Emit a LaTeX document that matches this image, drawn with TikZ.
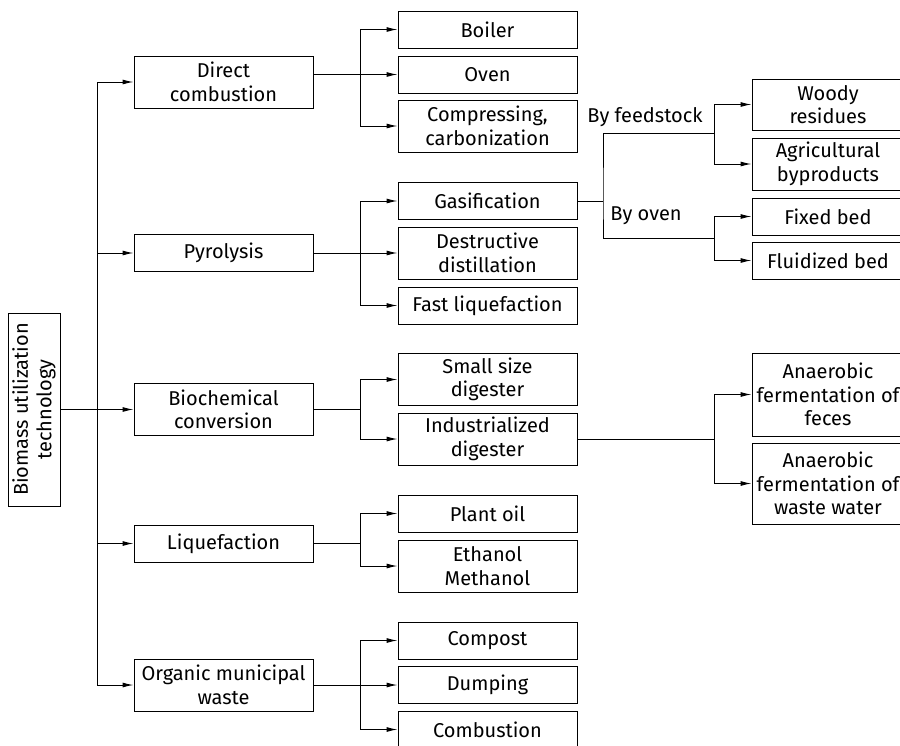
\documentclass[tikz,border=0pt]{standalone}
\usepackage{fontspec}
\setmainfont{Fira Sans}
\usepackage{tikz}
\usetikzlibrary{arrows.meta,positioning,calc}

\begin{document}
\begin{tikzpicture}[
  x=1pt,y=-1pt,
  every node/.style={font=\fontsize{20}{23.5}\selectfont},
  box/.style={draw,line width=1pt,align=center,inner sep=1pt,
              minimum width=179pt,minimum height=37pt},
  tallbox/.style={box,minimum height=52pt},
  endbox/.style={box,minimum width=152pt},
  arr/.style={-{Latex[length=11pt,width=5pt]},line width=1pt},
  conn/.style={line width=1pt}
]
  \useasboundingbox (0,0) rectangle (900,745);
  \node[box,rotate=90,minimum width=193pt,minimum height=52pt] (root) at (34,409.5) {Biomass utilization\\technology};

  \node[tallbox] (dc) at (223.5,82) {Direct\\combustion};
  \node[box] (pyro) at (223.5,253) {Pyrolysis};
  \node[tallbox] (bio) at (223.5,409.5) {Biochemical\\conversion};
  \node[box] (liq) at (223.5,543.5) {Liquefaction};
  \node[tallbox] (omw) at (223.5,685) {Organic municipal\\waste};

  \node[box] (boiler) at (487.5,29.5) {Boiler};
  \node[box] (oven) at (487.5,74.5) {Oven};
  \node[tallbox] (compress) at (487.5,126) {Compressing,\\carbonization};
  \node[box] (gas) at (487.5,201) {Gasification};
  \node[tallbox] (destr) at (487.5,253) {Destructive\\distillation};
  \node[box] (fastliq) at (487.5,305.5) {Fast liquefaction};
  \node[tallbox] (smalldig) at (487.5,379.5) {Small size\\digester};
  \node[tallbox] (inddig) at (487.5,439) {Industrialized\\digester};
  \node[box] (plantoil) at (487.5,513.5) {Plant oil};
  \node[tallbox] (ethanol) at (487.5,566) {Ethanol\\Methanol};
  \node[box] (compost) at (487.5,640.5) {Compost};
  \node[box] (dumping) at (487.5,685) {Dumping};
  \node[box] (combust) at (487.5,729.5) {Combustion};

  \node[endbox,minimum height=51pt] (woody) at (828,104.5) {Woody\\residues};
  \node[endbox,minimum height=52pt] (agri) at (828,164) {Agricultural\\byproducts};
  \node[endbox] (fixed) at (828,216.5) {Fixed bed};
  \node[endbox] (fluid) at (828,260.5) {Fluidized bed};
  \node[endbox,minimum height=83pt] (feces) at (828,394.5) {Anaerobic\\fermentation of\\feces};
  \node[endbox,minimum height=81pt] (wastew) at (828,483.5) {Anaerobic\\fermentation of\\waste water};

  \node (feedlbl) at (645,117) {By feedstock};
  \node (ovenlbl) at (646,216) {By oven};

  \coordinate (trunk) at (97,409);
  \draw[arr] (root) -- (bio);
  \draw[arr] (trunk) |- (dc);
  \draw[arr] (trunk) |- (pyro);
  \draw[arr] (trunk) |- (liq);
  \draw[arr] (trunk) |- (omw);

  \coordinate (dcfork) at (360,74.5);
  \draw[arr] (dc.east |- oven) -- (oven);
  \draw[arr] (dcfork) |- (boiler);
  \draw[arr] (dcfork) |- (compress);

  \coordinate (pyrofork) at (360,253);
  \draw[arr] (pyro) -- (destr);
  \draw[arr] (pyrofork) |- (gas);
  \draw[arr] (pyrofork) |- (fastliq);

  \coordinate (biofork) at (360,409.5);
  \draw[conn] (bio) -- (biofork);
  \draw[arr] (biofork) |- (smalldig);
  \draw[arr] (biofork) |- (inddig);

  \coordinate (liqfork) at (360,543.5);
  \draw[conn] (liq) -- (liqfork);
  \draw[arr] (liqfork) |- (plantoil);
  \draw[arr] (liqfork) |- (ethanol);

  \coordinate (omwfork) at (360,685);
  \draw[arr] (omw) -- (dumping);
  \draw[arr] (omwfork) |- (compost);
  \draw[arr] (omwfork) |- (combust);

  \coordinate (gasfork) at (603,201);
  \coordinate (feedfork) at (714,133);
  \coordinate (ovenfork) at (714,238);
  \draw[conn] (gas) -- (gasfork);
  \draw[conn] (feedfork) -| (gasfork) |- (ovenfork);
  \draw[arr] (feedfork) |- (woody);
  \draw[arr] (feedfork) |- (agri);
  \draw[arr] (ovenfork) |- (fixed);
  \draw[arr] (ovenfork) |- (fluid);

  \coordinate (indfork) at (714,439);
  \draw[conn] (inddig) -- (indfork);
  \draw[arr] (indfork) |- (feces);
  \draw[arr] (indfork) |- (wastew);
\end{tikzpicture}
\end{document}
